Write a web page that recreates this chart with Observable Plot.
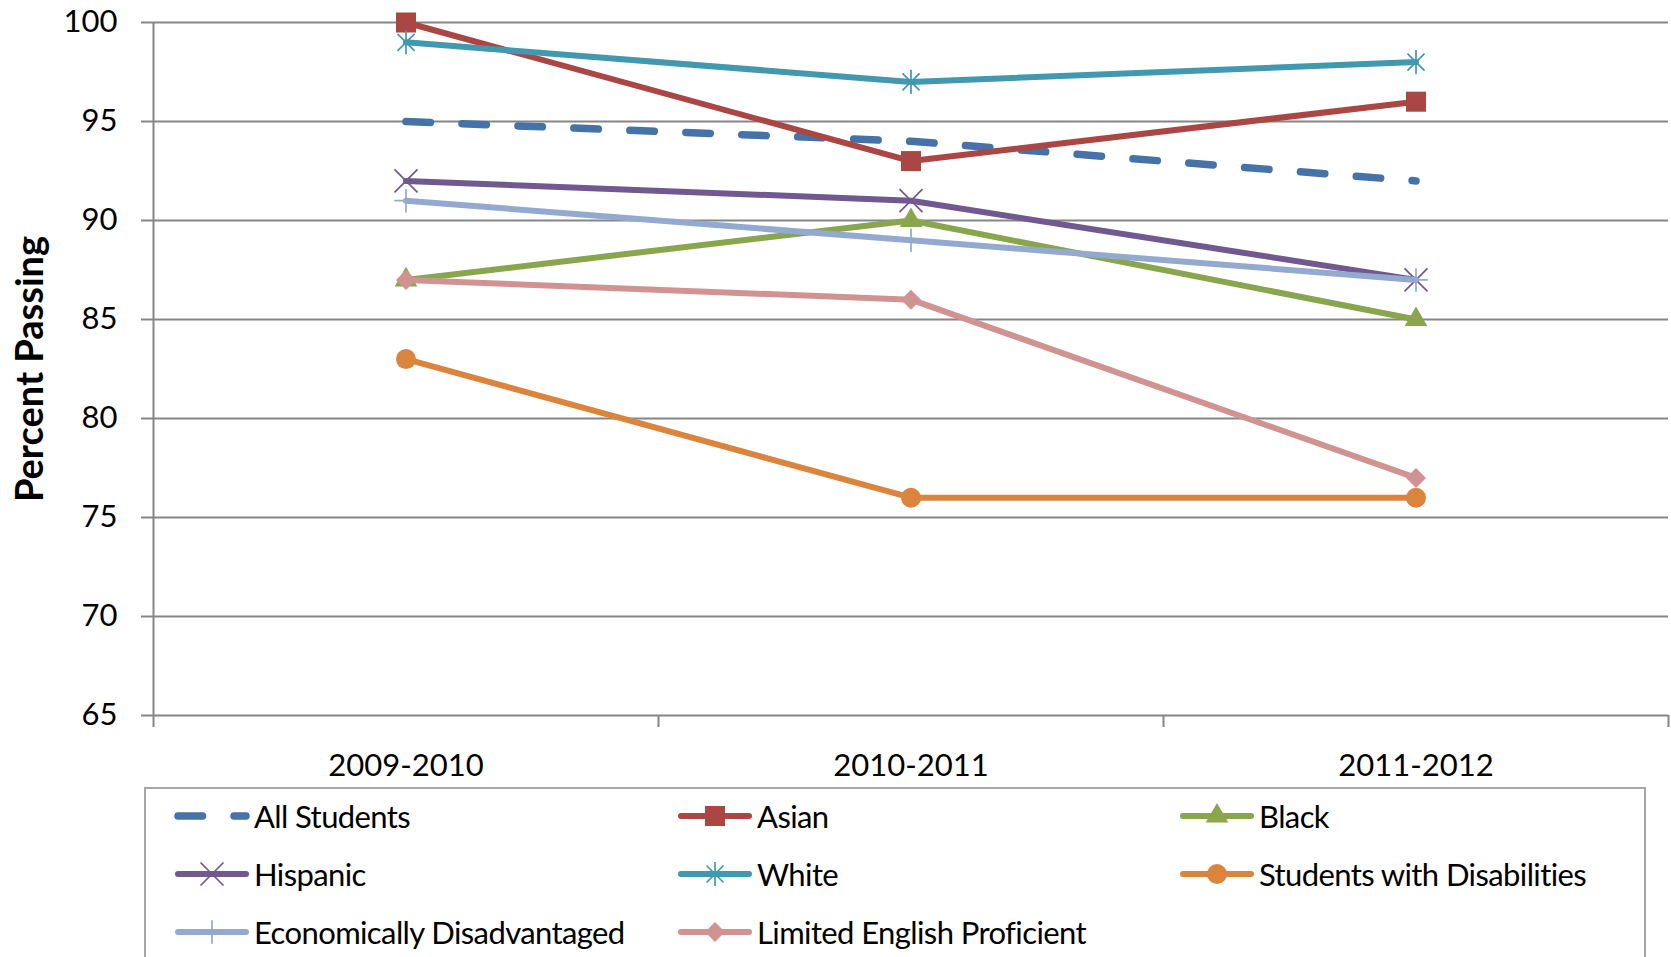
<!DOCTYPE html>
<html>
<head>
<meta charset="utf-8">
<script src="https://cdn.jsdelivr.net/npm/d3@7"></script>
<script src="https://cdn.jsdelivr.net/npm/@observablehq/plot@0.6"></script>
<style>
  html, body { margin: 0; padding: 0; background: #fff; overflow: hidden; }
  body { width: 1671px; height: 957px; position: relative; font-family: Lato, sans-serif; }
  #chart { position: absolute; left: 0; top: 0; }
  #legend { position: absolute; left: 144px; top: 787px; width: 1502px; height: 220px; border: 2px solid #a6a6a6; box-sizing: border-box; }
  .item { position: absolute; height: 34px; display: flex; align-items: center; font-size: 31px; letter-spacing: -0.6px; color: #000; white-space: nowrap; }
  .item svg { display: block; margin-right: 4px; }
</style>
</head>
<body>
<div id="chart"></div>
<div id="legend"></div>
<script>
const years = ["2009-2010", "2010-2011", "2011-2012"];
const seriesNames = ["All Students", "Asian", "Black", "Hispanic", "White", "Students with Disabilities", "Economically Disadvantaged", "Limited English Proficient"];
const allStudents = [95, 94, 92];
const asian = [100, 93, 96];
const black = [87, 90, 85];
const hispanic = [92, 91, 87];
const white = [99, 97, 98];
const disabilities = [83, 76, 76];
const econDisadvantaged = [91, 89, 87];
const limitedEnglish = [87, 86, 77];
const yTicks = [65, 70, 75, 80, 85, 90, 95, 100];

const seriesValues = [allStudents, asian, black, hispanic, white, disabilities, econDisadvantaged, limitedEnglish];
const colors = ["#4572A7", "#AA4643", "#89A54E", "#71588F", "#4198AF", "#DB843D", "#93A9CF", "#D19392"];

// Excel-style star: vertical bar plus a 45-degree X
const starSymbol = {
  draw(context, size) {
    const r = Math.sqrt(size) * 0.68;
    const d = r * Math.SQRT1_2;
    context.moveTo(0, -r); context.lineTo(0, r);
    context.moveTo(-d, -d); context.lineTo(d, d);
    context.moveTo(-d, d); context.lineTo(d, -d);
  }
};
const symbolTypes = [null, d3.symbolSquare, d3.symbolTriangle, d3.symbolTimes, starSymbol, d3.symbolCircle, d3.symbolPlus, d3.symbolDiamond2];
const symbolR = [0, 11.3, 8.4, 10.5, 10, 10, 7.6, 9];
const filled = [false, true, true, false, false, true, false, true];
const lineW = [7.5, 6, 6, 6, 6, 6, 6, 6];
const dash = "24.5,31.5";

const rows = seriesNames.flatMap((s, si) => years.map((y, i) => ({series: s, key: si, year: y, xi: i + 0.5, value: seriesValues[si][i]})));

const gridColor = "#868686";
const marks = [
  Plot.gridY({ticks: yTicks, stroke: gridColor, strokeOpacity: 1, strokeWidth: 2}),
  Plot.axisY({ticks: yTicks, tickSize: 12, tickFormat: () => "", stroke: gridColor, strokeWidth: 2, label: null}),
  Plot.axisY({ticks: yTicks, tickSize: 0, tickPadding: 36, fontSize: 31, label: null}),
  Plot.axisX({ticks: [0, 1, 2, 3], tickSize: 12, tickFormat: () => "", stroke: gridColor, strokeWidth: 2, label: null}),
  Plot.axisX({ticks: [0.5, 1.5, 2.5], tickSize: 0, tickPadding: 38, tickFormat: t => years[Math.floor(t)], fontSize: 31, label: null}),
  Plot.ruleX([0], {stroke: gridColor, strokeWidth: 2}),
  Plot.text(["Percent Passing"], {frameAnchor: "left", textAnchor: "middle", dx: -123, rotate: -90, fontWeight: "bold", fontSize: 38, fill: "#000"})
];

seriesNames.forEach((s, si) => {
  const data = rows.filter(d => d.series === s);
  marks.push(Plot.line(data, {x: "xi", y: "value", stroke: "key", strokeWidth: lineW[si], strokeLinecap: "round", strokeLinejoin: "round", strokeDasharray: si === 0 ? dash : undefined}));
  if (symbolTypes[si]) {
    if (filled[si]) {
      marks.push(Plot.dot(data, {x: "xi", y: "value", symbol: symbolTypes[si], r: symbolR[si], fill: "key", stroke: "none"}));
    } else {
      marks.push(Plot.dot(data, {x: "xi", y: "value", symbol: symbolTypes[si], r: symbolR[si], fill: "none", stroke: "key", strokeWidth: 1.7}));
    }
  }
});

const chart = Plot.plot({
  width: 1671,
  height: 785,
  marginLeft: 153,
  marginRight: 3,
  marginTop: 22,
  marginBottom: 70,
  x: {domain: [0, 3]},
  y: {domain: [65, 100]},
  color: {type: "ordinal", domain: d3.range(seriesNames.length), range: colors},
  style: {fontFamily: "Lato, sans-serif", fontSize: "31px", color: "#000", background: "#fff", overflow: "visible"},
  marks
});
document.getElementById("chart").appendChild(chart);

// Legend (HTML, swatches drawn with the same d3 symbol types)
const legend = document.getElementById("legend");
const colX = [174, 677, 1179];
const rowY = [816, 874, 932];
seriesNames.forEach((s, si) => {
  const c = si % 3, r = Math.floor(si / 3);
  const item = document.createElement("div");
  item.className = "item";
  item.style.left = (colX[c] - 146) + "px";
  item.style.top = (rowY[r] - 789 - 17) + "px";
  const svg = d3.create("svg").attr("width", 76).attr("height", 34);
  svg.append("line").attr("x1", 4).attr("x2", 72).attr("y1", 17).attr("y2", 17)
    .attr("stroke", colors[si]).attr("stroke-width", lineW[si]).attr("stroke-linecap", "round")
    .attr("stroke-dasharray", si === 0 ? dash : null);
  if (symbolTypes[si]) {
    const path = d3.symbol(symbolTypes[si], Math.PI * symbolR[si] * symbolR[si])();
    const p = svg.append("path").attr("d", path).attr("transform", "translate(38,17)");
    if (filled[si]) p.attr("fill", colors[si]);
    else p.attr("fill", "none").attr("stroke", colors[si]).attr("stroke-width", 1.7);
  }
  item.appendChild(svg.node());
  const span = document.createElement("span");
  span.textContent = s;
  item.appendChild(span);
  legend.appendChild(item);
});
</script>
</body>
</html>
